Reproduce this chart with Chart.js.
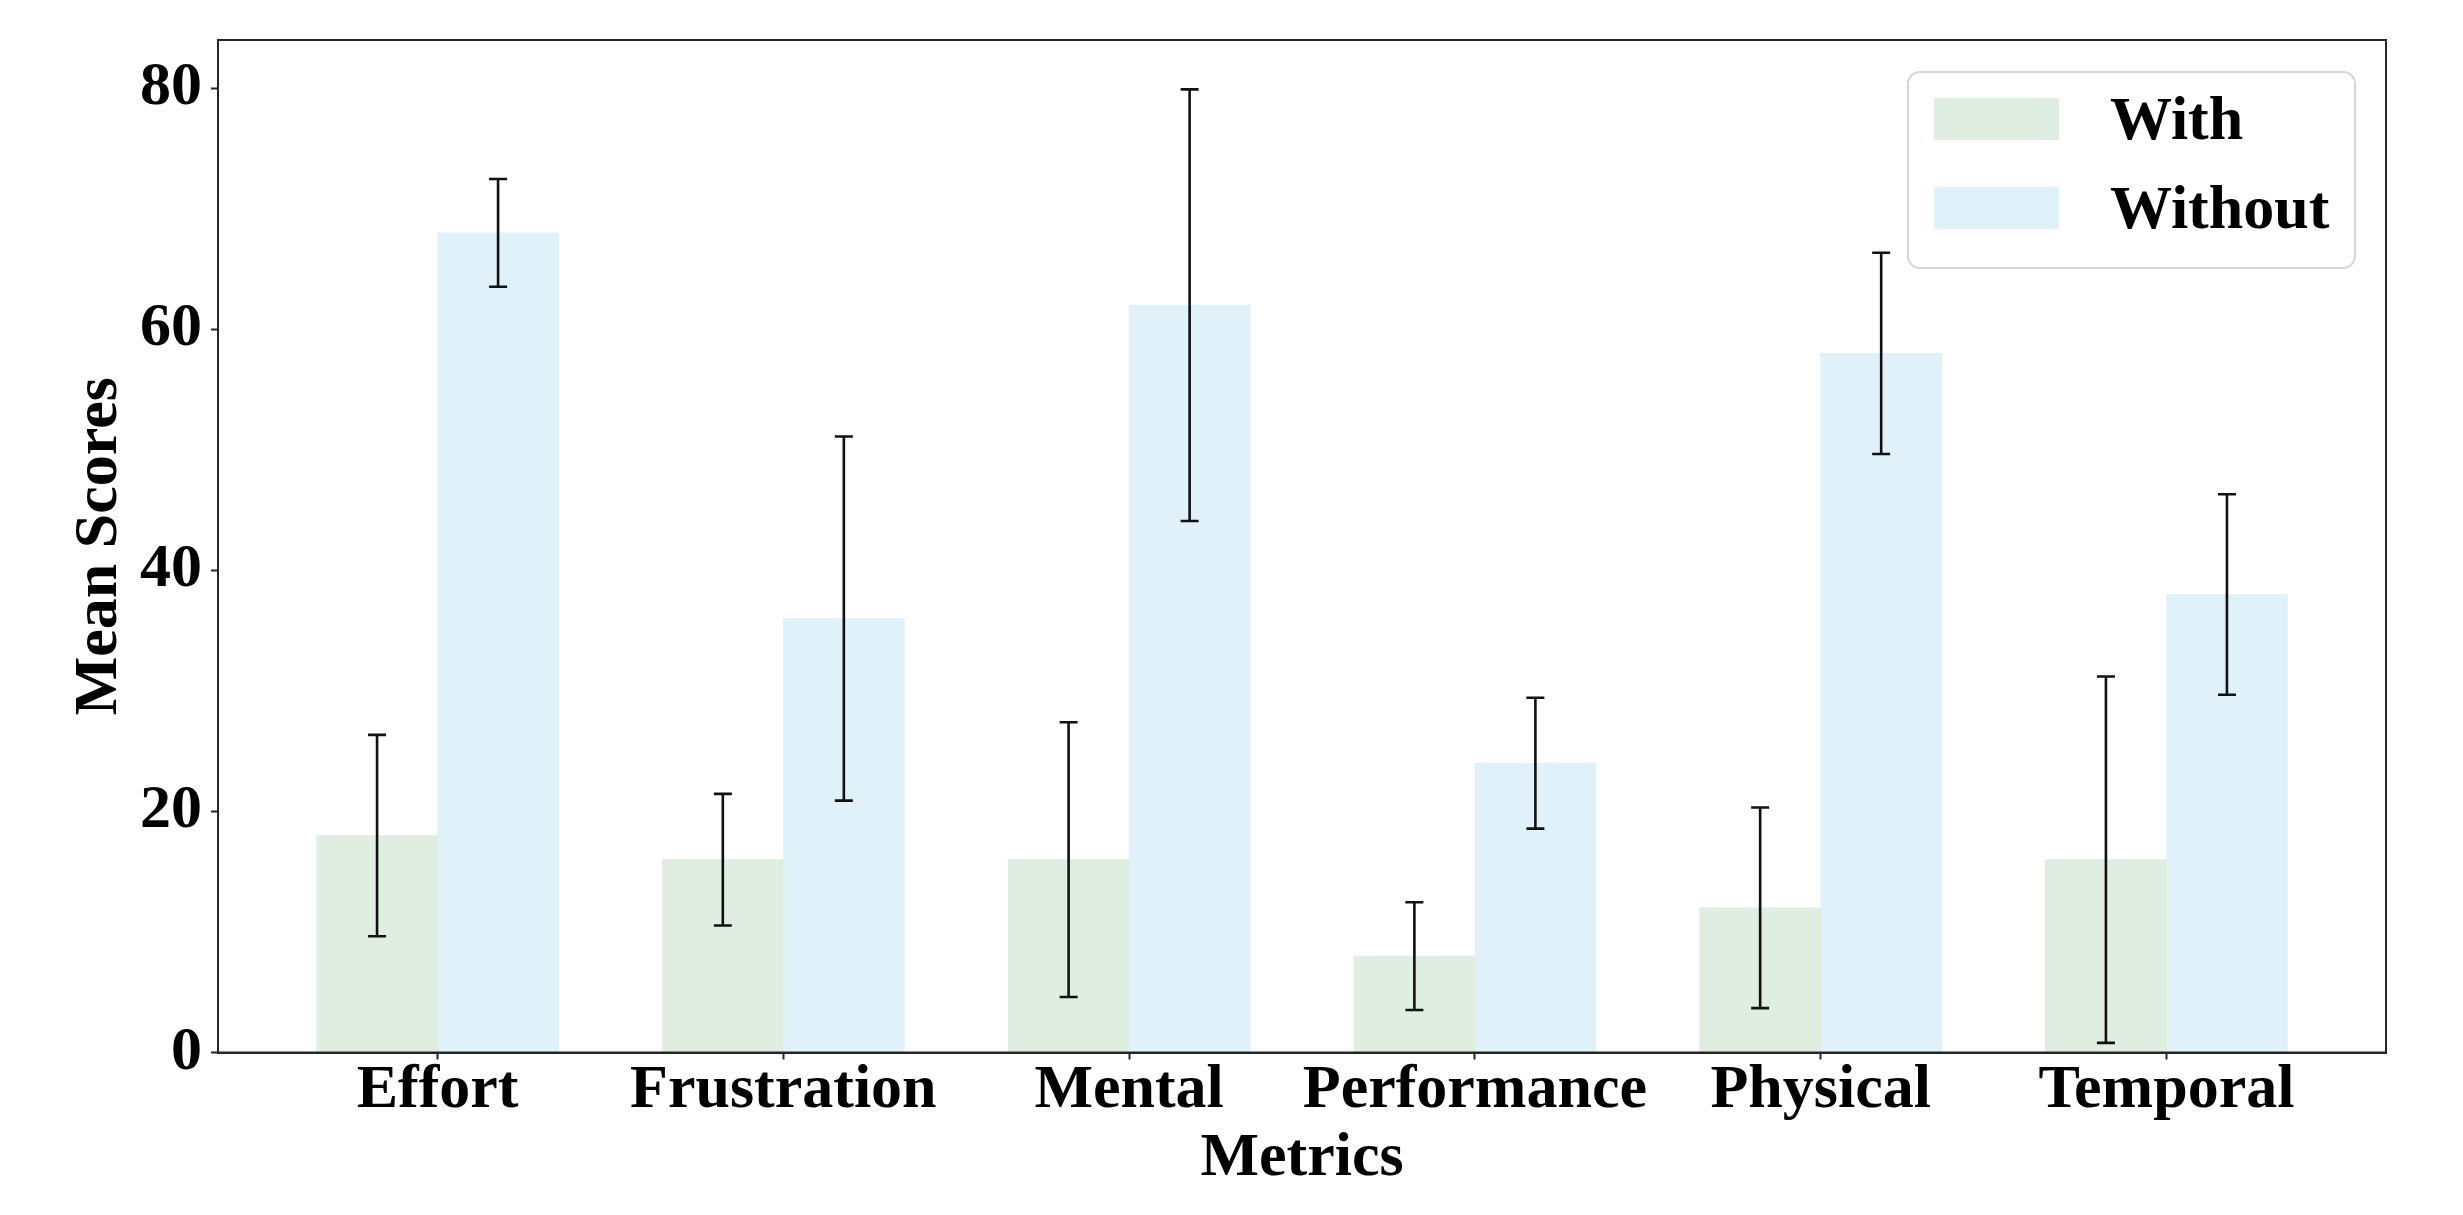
<!DOCTYPE html>
<html>
<head>
<meta charset="utf-8">
<script src="https://cdn.jsdelivr.net/npm/chart.js@4.4.1/dist/chart.umd.min.js"></script>
<style>
  html, body { margin: 0; padding: 0; background: #fff; }
  #wrap { width: 2463px; height: 1215px; }
</style>
</head>
<body>
<div id="wrap"><canvas id="chart" width="2463" height="1215"></canvas></div>
<script>
  // data
  const METRICS = ['Effort', 'Frustration', 'Mental', 'Performance', 'Physical', 'Temporal'];
  const WITH_MEAN = [18, 16, 16, 8, 12, 16];
  const WITH_ERR = [8.35, 5.46, 11.4, 4.47, 8.32, 15.2];
  const WITHOUT_MEAN = [68, 36, 62, 24, 58, 38];
  const WITHOUT_ERR = [4.47, 15.1, 17.9, 5.43, 8.35, 8.32];
  const Y_TICKS = [0, 20, 40, 60, 80];

  const BAR_W = 0.35;
  const COLOR_WITH = '#dfeee1';
  const COLOR_WITHOUT = '#e0f1fa';
  const INK = '#111';
  const FONT = 'Liberation Serif, Times New Roman, serif';

  const toPoints = (vals, shift) => vals.map((v, i) => ({ x: i + shift, y: v }));

  const errorBars = {
    id: 'errorBars',
    afterDatasetsDraw(chart) {
      const { ctx, scales: { x, y } } = chart;
      const sets = [[WITH_MEAN, WITH_ERR, -BAR_W / 2], [WITHOUT_MEAN, WITHOUT_ERR, BAR_W / 2]];
      ctx.save();
      ctx.strokeStyle = INK;
      ctx.lineWidth = 2.6;
      sets.forEach(([m, e, shift]) => {
        m.forEach((v, i) => {
          const px = x.getPixelForValue(i + shift);
          const top = y.getPixelForValue(v + e[i]);
          const bot = y.getPixelForValue(v - e[i]);
          ctx.beginPath();
          ctx.moveTo(px, top); ctx.lineTo(px, bot);
          ctx.moveTo(px - 9, top); ctx.lineTo(px + 9, top);
          ctx.moveTo(px - 9, bot); ctx.lineTo(px + 9, bot);
          ctx.stroke();
        });
      });
      ctx.restore();
    }
  };

  const frameAndLegend = {
    id: 'frameAndLegend',
    afterDraw(chart) {
      const { ctx, chartArea: a } = chart;
      ctx.save();
      ctx.strokeStyle = '#262626';
      ctx.lineWidth = 2;
      ctx.strokeRect(a.left, a.top, a.right - a.left, a.bottom - a.top);

      // legend box, upper right
      const bw = 447, bh = 196;
      const bx = a.right - 31 - bw, by = a.top + 32;
      ctx.strokeStyle = '#d6d6d6';
      ctx.lineWidth = 2;
      ctx.beginPath();
      ctx.roundRect(bx, by, bw, bh, 12);
      ctx.fillStyle = 'rgba(255,255,255,0.8)';
      ctx.fill();
      ctx.stroke();

      ctx.font = 'bold 62px ' + FONT;
      ctx.textBaseline = 'middle';
      ctx.textAlign = 'left';
      chart.data.datasets.forEach((ds, i) => {
        const rowY = by + 26 + i * 89;
        ctx.fillStyle = ds.backgroundColor;
        ctx.fillRect(bx + 26, rowY, 125, 42);
        ctx.fillStyle = '#000';
        ctx.fillText(ds.label, bx + 202, rowY + 25);
      });
      ctx.restore();
    }
  };

  new Chart(document.getElementById('chart'), {
    type: 'bar',
    data: {
      datasets: [
        { label: 'With', data: toPoints(WITH_MEAN, -BAR_W / 2), backgroundColor: COLOR_WITH },
        { label: 'Without', data: toPoints(WITHOUT_MEAN, BAR_W / 2), backgroundColor: COLOR_WITHOUT }
      ]
    },
    options: {
      responsive: false,
      animation: false,
      devicePixelRatio: 1,
      grouped: false,
      categoryPercentage: 1,
      barPercentage: 1,
      layout: { padding: { left: 0, top: 40, right: 77, bottom: 0 } },
      plugins: { legend: { display: false }, tooltip: { enabled: false } },
      scales: {
        x: {
          type: 'linear',
          offset: false,
          min: -0.635,
          max: 5.635,
          afterBuildTicks: s => { s.ticks = METRICS.map((_, i) => ({ value: i })); },
          afterFit: s => { s.height = 162.5; },
          grid: { offset: false, drawOnChartArea: false, drawTicks: true, tickLength: 7, tickColor: '#262626', tickWidth: 2 },
          border: { display: true, color: '#262626', width: 2 },
          ticks: {
            autoSkip: false,
            maxRotation: 0,
            padding: 0,
            color: '#000',
            font: { family: FONT, size: 62, weight: 'bold', lineHeight: 1.0 },
            callback: v => METRICS[v]
          },
          title: {
            display: true,
            text: 'Metrics',
            color: '#000',
            font: { family: FONT, size: 62, weight: 'bold' },
            padding: { top: 0, bottom: 19 }
          }
        },
        y: {
          min: 0,
          max: 84,
          afterBuildTicks: s => { s.ticks = Y_TICKS.map(v => ({ value: v })); },
          afterFit: s => { s.width = 218; },
          grid: { drawOnChartArea: false, drawTicks: true, tickLength: 7, tickColor: '#262626', tickWidth: 2 },
          border: { display: true, color: '#262626', width: 2 },
          ticks: {
            padding: 9,
            color: '#000',
            font: { family: FONT, size: 62, weight: 'bold', lineHeight: 0.8 }
          },
          title: {
            display: true,
            text: 'Mean Scores',
            color: '#000',
            font: { family: FONT, size: 62, weight: 'bold' },
            padding: { top: 63, bottom: 0 }
          }
        }
      }
    },
    plugins: [errorBars, frameAndLegend]
  });
</script>
</body>
</html>
